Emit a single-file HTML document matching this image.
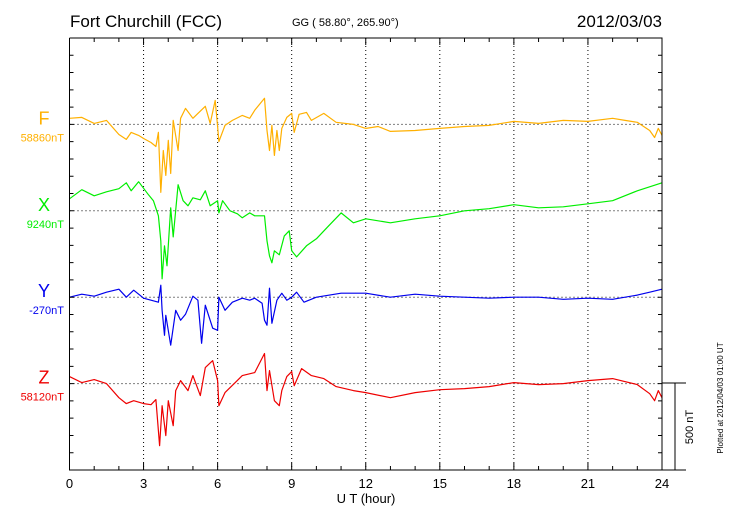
<!DOCTYPE html>
<html><head><meta charset="utf-8"><style>
body{margin:0;background:#fff;}
svg{display:block;font-family:"Liberation Sans",sans-serif;}
</style></head><body>
<svg id="chart" width="730" height="520" viewBox="0 0 730 520">
<text x="70" y="27" font-size="17">Fort Churchill (FCC)</text>
<text x="292" y="26" font-size="11">GG ( 58.80°, 265.90°)</text>
<text x="662" y="27" font-size="17" text-anchor="end">2012/03/03</text>
<g id="grid"></g><g id="series"></g><g id="axes"></g>
</svg>
<script>
const NS="http://www.w3.org/2000/svg";
const svg=document.getElementById('chart');
const L=69.5,R=662,T=38,B=470;
const pxPerNT=87/500;
const xTicks=[0,3,6,9,12,15,18,21,24];
const seriesNames=["F","X","Y","Z"];
const seriesColors=["#ffb000","#00ee00","#0000ee","#ee0000"];
const baseLabels=["58860nT","9240nT","-270nT","58120nT"];
const baselineRows=[1,2,3,4];
const fTimes=[0,0.5,1,1.5,2,2.3,2.5,2.8,3,3.3,3.5,3.6,3.7,3.8,3.9,4.0,4.1,4.2,4.4,4.5,4.7,5,5.2,5.5,5.7,5.9,6.0,6.05,6.3,6.6,7,7.3,7.5,7.9,8.0,8.1,8.2,8.3,8.4,8.5,8.6,8.8,9,9.1,9.3,9.6,9.8,10.3,10.8,11.5,12,12.5,13,14,15,16,17,18,19,20,21,22,22.5,23,23.5,23.7,23.85,24];
const fValues=[35,40,6,23,-58,-86,-46,-63,-81,-104,-127,-46,-391,-150,-293,-92,-282,23,-150,35,92,35,63,104,6,138,-12,-98,-6,23,52,35,81,150,-35,-150,-6,-178,-35,-150,-23,40,63,-46,58,69,23,63,12,0,-23,-12,-40,-35,-23,-12,-6,17,6,23,17,35,23,12,-35,-75,-23,-63];
const xTimes=[0,0.5,1,1.5,2,2.3,2.5,2.8,3.2,3.4,3.6,3.7,3.75,3.85,3.95,4.1,4.2,4.4,4.6,4.8,5,5.3,5.5,5.7,6,6.05,6.2,6.5,6.8,7,7.3,7.5,7.9,8.0,8.1,8.2,8.3,8.5,8.7,8.9,9,9.2,9.6,10,10.5,11,11.5,12,13,14,15,16,17,18,19,20,21,22,23,24];
const xValues=[69,121,86,109,127,161,115,167,92,58,-29,-173,-391,-201,-316,17,-150,150,58,29,75,63,115,29,58,-12,58,0,-17,-40,-12,-29,-29,-173,-259,-299,-230,-253,-144,-115,-230,-265,-201,-161,-86,-12,-69,-46,-69,-46,-29,0,12,35,17,23,40,58,115,161];
const yTimes=[0,0.5,1,1.5,2,2.3,2.6,3,3.3,3.6,3.7,3.75,3.85,3.9,4.1,4.3,4.5,4.7,5,5.2,5.35,5.5,5.8,6.0,6.05,6.3,6.6,7,7.3,7.5,7.8,7.9,8.0,8.1,8.2,8.4,8.6,8.8,9,9.2,9.5,10,11,12,13,14,15,16,17,18,19,20,21,22,23,23.5,24];
const yValues=[0,17,6,29,46,0,40,-6,-17,-29,69,-75,-219,-104,-276,-75,-132,-98,6,-17,-265,-46,-178,-190,0,-75,-29,-6,-17,-6,-35,-132,-161,52,-150,-17,23,-17,0,29,-29,0,23,23,0,17,6,0,-6,0,0,-12,-6,-12,12,29,46];
const zTimes=[0,0.5,1,1.5,2,2.3,2.6,3,3.3,3.5,3.65,3.75,3.9,4.0,4.2,4.3,4.5,4.8,5,5.3,5.5,5.8,6,6.05,6.3,7,7.5,7.9,8.0,8.1,8.3,8.5,8.6,8.8,9,9.1,9.4,9.8,10.3,10.8,11.5,12,13,14,15,16,17,18,19,20,21,22,23,23.5,23.7,23.85,24];
const zValues=[40,6,23,0,-81,-115,-98,-115,-121,-92,-357,-127,-299,-98,-242,-40,17,-40,46,-69,92,132,17,-127,-52,46,63,173,-40,75,-98,-127,-40,40,69,-12,86,46,29,-17,-40,-52,-81,-52,-35,-29,-17,6,-6,0,17,29,-6,-58,-98,-40,-81];
const allTimes=[fTimes,xTimes,yTimes,zTimes];
const allValues=[fValues,xValues,yValues,zValues];
const rowStep=(B-T)/25;
function xScale(h){return L+(R-L)*h/24;}
function baseY(i){return T+baselineRows[i]*5*rowStep;}
function yScale(i,v){return baseY(i)-v*pxPerNT;}
function mk(tag,attrs,parent){const e=document.createElementNS(NS,tag);for(const k in attrs)e.setAttribute(k,attrs[k]);parent.appendChild(e);return e;}
const grid=document.getElementById('grid'),ser=document.getElementById('series'),ax=document.getElementById('axes');
xTicks.slice(1,-1).forEach(h=>{
  const l=mk('line',{x1:xScale(h),x2:xScale(h),y1:T,y2:B,stroke:'#000','stroke-width':1,'stroke-dasharray':'1,3'},grid);
  
  
});
seriesNames.forEach((n,i)=>{
  const y=baseY(i);
  const g=mk('line',{x1:L,x2:R,y1:y,y2:y,stroke:'#000','stroke-width':1,'stroke-dasharray':'1,3'},grid);
  
  
  const t=mk('text',{x:44,y:y-0,'font-size':18,fill:seriesColors[i],'text-anchor':'middle'},ax);
  t.textContent=n;
  
  
  const b=mk('text',{x:64,y:y+17,'font-size':11,fill:seriesColors[i],'text-anchor':'end'},ax);
  b.textContent=baseLabels[i];
  
  
  const pts=allTimes[i].map((h,k)=>xScale(h).toFixed(1)+','+yScale(i,allValues[i][k]).toFixed(1)).join(' ');
  const p=mk('polyline',{points:pts,fill:'none',stroke:seriesColors[i],'stroke-width':1.2,'stroke-linejoin':'round'},ser);
  
  
});
// frame
const fr=mk('path',{d:`M${L},${T}H${R}V${B}M${L},${T}V${B}H686M${R},383H686M675,383V${B}`,stroke:'#000','stroke-width':1,fill:'none'},ax);


let d='';
for(let h=0;h<=24;h++){const x=xScale(h);const len=h%3===0?7:4;d+=`M${x},${T}v${len}M${x},${B}v${-len}`;}
for(let k=0;k<=25;k++){const y=T+k*rowStep;d+=`M${L},${y}h4M${R},${y}h-4`;}
const tk=mk('path',{d:d,stroke:'#000','stroke-width':1},ax);


xTicks.forEach(h=>{
  const t=mk('text',{x:xScale(h),y:488,'font-size':13,'text-anchor':'middle'},ax);
  t.textContent=h;
  
  
});
const xt=mk('text',{x:366,y:503,'font-size':13,'text-anchor':'middle'},ax);
xt.textContent='U T (hour)';


const sc=mk('text',{x:693,y:427,'font-size':11,'text-anchor':'middle',transform:'rotate(-90 693 427)'},ax);
sc.textContent='500 nT';


const pl=mk('text',{x:723,y:398,'font-size':8,'text-anchor':'middle',transform:'rotate(-90 723 398)'},ax);
pl.textContent='Plotted at 2012/04/03 01:00 UT';


</script>
</body></html>
